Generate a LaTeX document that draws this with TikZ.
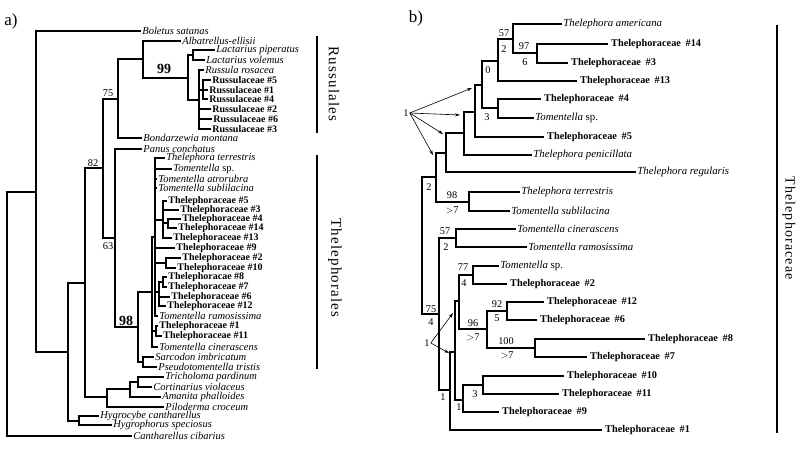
\documentclass[tikz,border=0pt]{standalone}
\usepackage{fontspec}
\setmainfont{Liberation Serif}
\newfontfamily\cladefont[LetterSpace=8]{Liberation Serif}
\usetikzlibrary{arrows.meta}
\newcommand{\thph}[1]{Thelephoraceae\hspace{.45em}\##1}
\tikzset{
    % Tree
    branch/.style={line width=1.3pt},
    clade bar/.style={line width=1.5pt},
    %
    % Labels
    taxon/.style={anchor=west,inner xsep=1.2pt,inner ysep=0pt,font=\fontsize{10.5}{10}\selectfont\itshape},
    isolate/.style={taxon,font=\fontsize{10}{10}\selectfont\bfseries},
    btaxon/.style={taxon,font=\fontsize{10.8}{11}\selectfont\itshape},
    bisolate/.style={taxon,inner xsep=3pt,font=\fontsize{10.3}{11}\selectfont\bfseries},
    support/.style={inner sep=0pt,font=\fontsize{10.3}{10}\selectfont},
    strong support/.style={inner sep=0pt,font=\fontsize{14}{14}\selectfont\bfseries},
    clade name/.style={rotate=-90,inner sep=0pt,font=\fontsize{15}{15}\cladefont},
    panel/.style={inner sep=0pt,font=\fontsize{17}{17}\selectfont},
    %
    % Arrows
    arrow tip/.tip={Stealth[length=5pt,width=3.2pt]},
    arr/.style={-{arrow tip},line width=.6pt},
}

\begin{document}
\begin{tikzpicture}[x=1pt,y=-1pt]
    \useasboundingbox (0,0) rectangle (800,448);
    \node[panel] (pa) at (11,21) {a)};
    \node[panel] (pb) at (416,18) {b)};

    % ---------------- a) ----------------
    \coordinate (ra) at (7,314);
    \coordinate (na1) at (36,192);
    \coordinate (na2) at (68,352);
    \coordinate (nhyg) at (79,421);
    \coordinate (na3) at (85,283);
    \coordinate (nagar) at (107,397);
    \coordinate (nag2) at (130,389);
    \coordinate (nag3) at (138,382);
    \coordinate (na4) at (103,168);
    \coordinate (na5) at (118,99);
    \coordinate (nrus) at (143,59);
    \coordinate (n99) at (188,78);
    \coordinate (nlac) at (193,55);
    \coordinate (nruss) at (199,100);
    \coordinate (nrs1) at (203,90);
    \coordinate (na6) at (115,238);
    \coordinate (n98) at (138,327);
    \coordinate (nsarc) at (143,362);
    \coordinate (nt1) at (152,292);
    \coordinate (nt2) at (155,237);
    \coordinate (nt3) at (156,331);
    \coordinate (nc1) at (163,220);
    \coordinate (nc1b) at (168,223);
    \coordinate (nc2) at (166,263);
    \coordinate (nc3) at (159,292);
    \coordinate (nc3a) at (163,282);

    \node[taxon] (bolsat) at (141,31) {Boletus satanas};
    \node[taxon] (albell) at (181,41) {Albatrellus-ellisii};
    \node[taxon] (lacpip) at (215,50) {Lactarius piperatus};
    \node[taxon] (lacvol) at (205,60) {Lactarius volemus};
    \node[taxon] (rusros) at (204,70) {Russula rosacea};
    \node[isolate] (rus5) at (211,80) {Russulaceae \#5};
    \node[isolate] (rus1) at (208,90) {Russulaceae \#1};
    \node[isolate] (rus4) at (208,99) {Russulaceae \#4};
    \node[isolate] (rus2) at (211,109) {Russulaceae \#2};
    \node[isolate] (rus6) at (212,119) {Russulaceae \#6};
    \node[isolate] (rus3) at (211,129) {Russulaceae \#3};
    \node[taxon] (bonmon) at (142,138) {Bondarzewia montana};
    \node[taxon] (pancon) at (142,149) {Panus conchatus};
    \node[taxon] (theter) at (165,158) {Thelephora terrestris};
    \node[taxon] (tomsp) at (172,169) {Tomentella \upshape sp.};
    \node[taxon] (tomatr) at (157,179) {Tomentella atrorubra};
    \node[taxon] (tomsub) at (157,188) {Tomentella sublilacina};
    \node[isolate] (th5) at (167,201) {Thelephoraceae \#5};
    \node[isolate] (th3) at (179,210) {Thelephoraceae \#3};
    \node[isolate] (th4) at (181,219) {Thelephoraceae \#4};
    \node[isolate] (th14) at (177,228) {Thelephoraceae \#14};
    \node[isolate] (th13) at (172,238) {Thelephoraceae \#13};
    \node[isolate] (th9) at (175,248) {Thelephoraceae \#9};
    \node[isolate] (th2) at (181,258) {Thelephoraceae \#2};
    \node[isolate] (th10) at (176,268) {Thelephoraceae \#10};
    \node[isolate] (th8) at (167,277) {Thelephoracae \#8};
    \node[isolate] (th7) at (167,287) {Thelephoraceae \#7};
    \node[isolate] (th6) at (170,297) {Thelephoraceae \#6};
    \node[isolate] (th12) at (166,306) {Thelephoraceae \#12};
    \node[taxon] (tomram) at (158,316) {Tomentella ramosissima};
    \node[isolate] (th1) at (158,326) {Thelephoraceae \#1};
    \node[isolate] (th11) at (162,336) {Thelephoraceae \#11};
    \node[taxon] (tomcin) at (158,347) {Tomentella cinerascens};
    \node[taxon] (sarimb) at (154,357) {Sarcodon imbricatum};
    \node[taxon] (psetri) at (157,367) {Pseudotomentella tristis};
    \node[taxon] (tripar) at (164,377) {Tricholoma pardinum};
    \node[taxon] (corvio) at (152,387) {Cortinarius violaceus};
    \node[taxon] (amapha) at (161,397) {Amanita phalloides};
    \node[taxon] (pilcro) at (164,407) {Piloderma croceum};
    \node[taxon] (hygcan) at (99,416) {Hygrocybe cantharellus};
    \node[taxon] (hygspe) at (112,425) {Hygrophorus speciosus};
    \node[taxon] (cancib) at (132,436) {Cantharellus cibarius};

    \foreach \p/\c in {ra/na1,na1/na2,na2/na3,na2/nhyg,na3/na4,na3/nagar,nagar/nag2,nag2/nag3,
        na4/na5,na4/na6,na5/nrus,nrus/n99,n99/nlac,n99/nruss,nruss/nrs1,na6/n98,n98/nt1,n98/nsarc,
        nt1/nt2,nt1/nt3,nt2/nc1,nt2/nc2,nt2/nc3,nc1/nc1b,nc3/nc3a}
        \draw[branch] (\p) |- (\c);
    \foreach \p/\c in {ra/cancib,na1/bolsat,nhyg/hygcan,nhyg/hygspe,nagar/pilcro,nag2/amapha,
        nag3/tripar,nag3/corvio,na5/bonmon,nrus/albell,nlac/lacpip,nlac/lacvol,nruss/rusros,
        nrs1/rus5,nrs1/rus1,nrs1/rus4,nruss/rus2,nruss/rus6,nruss/rus3,na6/pancon,nsarc/sarimb,
        nsarc/psetri,nt1/tomcin,nt3/th1,nt3/th11,nt2/theter,nt2/tomsp,nt2/tomatr,nt2/tomsub,
        nt2/th9,nt2/tomram,nc1/th5,nc1/th3,nc1/th13,nc1b/th4,nc1b/th14,nc2/th2,nc2/th10,
        nc3a/th8,nc3a/th7,nc3/th6,nc3/th12}
        \draw[branch] (\p) |- (\c.west);

    \node[support] (s75) at (108,93) {75};
    \node[support] (s82) at (93,163) {82};
    \node[support] (s63) at (108,246) {63};
    \node[strong support] (s99) at (164,69) {99};
    \node[strong support] (s98) at (126,321) {98};

    \draw[clade bar] (317,36) -- (317,133);
    \node[clade name] (russulales) at (334,84) {Russulales};
    \draw[clade bar] (317,155) -- (317,369);
    \node[clade name] (thelephorales) at (335,268) {Thelephorales};

    % ---------------- b) ----------------
    \coordinate (b0) at (422,245);
    \coordinate (b1) at (436,177);
    \coordinate (b2) at (446,153);
    \coordinate (b3) at (464,133);
    \coordinate (b4) at (475,112);
    \coordinate (b5) at (482,85);
    \coordinate (b6) at (498,61);
    \coordinate (b7) at (498,108);
    \coordinate (b8) at (513,39);
    \coordinate (b9) at (537,53);
    \coordinate (bt) at (469,202);
    \coordinate (b10) at (439,314);
    \coordinate (b11) at (456,238);
    \coordinate (b12) at (450,390);
    \coordinate (b13) at (455,352);
    \coordinate (b14) at (459,301);
    \coordinate (b15) at (463,400);
    \coordinate (b16) at (473,275);
    \coordinate (b17) at (487,329);
    \coordinate (b18) at (507,311);
    \coordinate (b19) at (535,348);
    \coordinate (b20) at (483,385);

    \node[btaxon] (bteram) at (562,24) {Thelephora americana};
    \node[bisolate] (bth14) at (608,44) {\thph{14}};
    \node[bisolate] (bth3) at (568,63) {\thph{3}};
    \node[bisolate] (bth13) at (577,81) {\thph{13}};
    \node[bisolate] (bth4) at (541,99) {\thph{4}};
    \node[btaxon] (btomsp) at (534,118) {Tomentella \upshape sp.};
    \node[bisolate] (bth5) at (544,137) {\thph{5}};
    \node[btaxon] (btepen) at (532,155) {Thelephora penicillata};
    \node[btaxon] (bthreg) at (636,172) {Thelephora regularis};
    \node[btaxon] (bther) at (520,192) {Thelephora terrestris};
    \node[btaxon] (btomsub) at (510,211) {Tomentella sublilacina};
    \node[btaxon] (btomcin) at (516,229) {Tomentella cinerascens};
    \node[btaxon] (btomram) at (527,247) {Tomentella ramosissima};
    \node[btaxon] (btomsp2) at (499,266) {Tomentella \upshape sp.};
    \node[bisolate] (bth2) at (507,284) {\thph{2}};
    \node[bisolate] (bth12) at (544,302) {\thph{12}};
    \node[bisolate] (bth6) at (537,320) {\thph{6}};
    \node[bisolate] (bth8) at (645,339) {\thph{8}};
    \node[bisolate] (bth7) at (587,357) {\thph{7}};
    \node[bisolate] (bth10) at (564,376) {\thph{10}};
    \node[bisolate] (bth11) at (559,394) {\thph{11}};
    \node[bisolate] (bth9) at (499,412) {\thph{9}};
    \node[bisolate] (bth1) at (602,430) {\thph{1}};

    \foreach \p/\c in {b0/b1,b0/b10,b1/b2,b1/bt,b2/b3,b3/b4,b4/b5,b5/b6,b5/b7,b6/b8,b8/b9,
        b10/b11,b10/b12,b12/b13,b13/b14,b13/b15,b14/b16,b14/b17,b17/b18,b17/b19,b15/b20}
        \draw[branch] (\p) |- (\c);
    \foreach \p/\c in {b2/bthreg,b3/btepen,b4/bth5,b6/bth13,b7/bth4,b7/btomsp,b8/bteram,
        b9/bth14,b9/bth3,bt/bther,bt/btomsub,b11/btomcin,b11/btomram,b12/bth1,b16/btomsp2,
        b16/bth2,b18/bth12,b18/bth6,b19/bth8,b19/bth7,b20/bth10,b20/bth11,b15/bth9}
        \draw[branch] (\p) |- (\c.west);

    % support values
    \foreach \t/\x/\y [count=\i] in {57/504/33,2/504/49,97/524/46,6/525/62,0/488/70,3/487/117,
        2/429/187,98/452/195,{$>$7}/452/210,57/445/231,2/446/247,77/463/267,4/464/283,
        75/431/309,4/431/322,96/473/323,{$>$7}/473/337,92/497/304,5/497/318,100/506/341,
        {$>$7}/507/355,1/443/397,1/459/407,3/475/394}
        \node[support] (bs\i) at (\x,\y) {\t};

    % weak support arrows
    \node[support] (one1) at (406,113) {1};
    \coordinate (tip1) at (472,88);
    \coordinate (tip2) at (460,115);
    \coordinate (tip3) at (443,134);
    \coordinate (tip4) at (433,155);
    \foreach \k in {1,...,4}
        \draw[arr] ([xshift=1pt]one1.east) -- (tip\k);
    \node[support] (one2) at (427,343) {1};
    \coordinate (tip5) at (453,313);
    \coordinate (tip6) at (449,353);
    \foreach \k in {5,6}
        \draw[arr] ([xshift=1pt]one2.east) -- (tip\k);

    \draw[clade bar] (777,25) -- (777,433);
    \node[clade name,font=\fontsize{14}{14}\cladefont] (thelephoraceae) at (789,228) {Thelephoraceae};
\end{tikzpicture}
\end{document}
